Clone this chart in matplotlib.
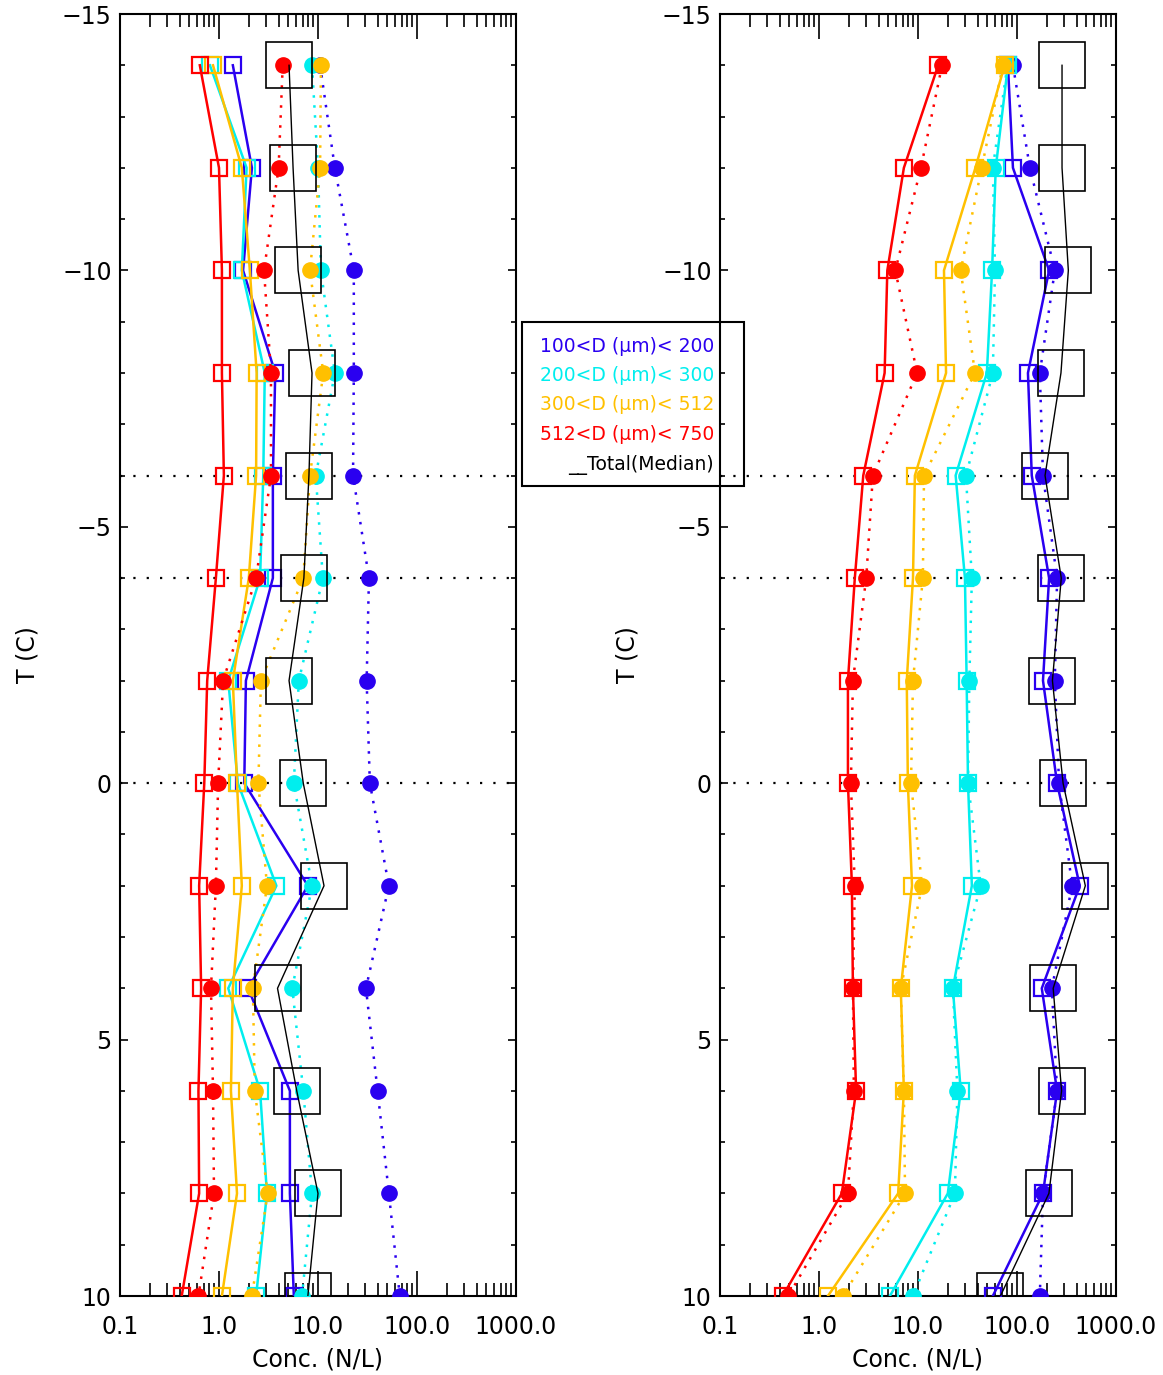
import matplotlib
matplotlib.use("Agg")
import matplotlib.pyplot as plt
from matplotlib.patches import Rectangle
from matplotlib.ticker import FixedLocator, NullFormatter

plt.rcParams['font.family'] = ['DejaVu Sans']

# ---------------- data ----------------
temps = [-14, -12, -10, -8, -6, -4, -2, 0, 2, 4, 6, 8, 10]

bin_labels = ["100<D (\u03bcm)< 200", "200<D (\u03bcm)< 300",
              "300<D (\u03bcm)< 512", "512<D (\u03bcm)< 750"]
bin_colors = ["#2a00f0", "#00eeee", "#ffc000", "#ff0000"]

# left panel: squares (solid line) and circles (dotted line)
left_sq_blue = [1.38, 2.15, 1.75, 3.7, 3.5, 3.5, 1.87, 1.8, 7.9, 1.97, 5.2, 5.2, 5.7]
left_ci_blue = [10.5, 14.8, 23, 23, 22.6, 32.7, 31, 33.4, 52, 30.5, 40, 52, 67]
left_sq_cyan = [0.81, 1.9, 1.7, 2.9, 2.8, 2.6, 1.24, 1.55, 3.8, 1.24, 2.6, 3.05, 2.37]
left_ci_cyan = [8.7, 10, 10.7, 14.8, 9.5, 11.2, 6.4, 5.7, 8.7, 5.5, 7.1, 8.7, 6.9]
left_sq_orange = [0.87, 1.7, 2.05, 2.4, 2.37, 2.0, 1.38, 1.52, 1.7, 1.38, 1.32, 1.52, 1.07]
left_ci_orange = [10.7, 10.5, 8.3, 11.3, 8.3, 7.1, 2.65, 2.5, 3.05, 2.2, 2.3, 3.1, 2.15]
left_sq_red = [0.64, 1.0, 1.07, 1.07, 1.12, 0.93, 0.76, 0.71, 0.63, 0.66, 0.62, 0.63, 0.42]
left_ci_red = [4.4, 4.0, 2.85, 3.35, 3.35, 2.37, 1.1, 0.98, 0.93, 0.83, 0.87, 0.89, 0.62]
left_total = [5.1, 5.6, 6.3, 8.7, 8.1, 7.2, 5.1, 7.1, 11.5, 3.9, 6.1, 10, 7.9]

# right panel
right_sq_blue = [81, 91, 211, 129, 141, 211, 183, 254, 430, 178, 254, 183, 57]
right_ci_blue = [91, 135, 241, 170, 183, 254, 241, 266, 360, 225, 254, 183, 170]
right_sq_cyan = [81, 61, 56, 49.6, 24, 29.8, 31, 32, 35, 22.5, 27, 20, 5.2]
right_ci_cyan = [80, 57, 60, 57, 30.5, 35, 33, 32, 43, 22.5, 25, 23.6, 8.9]
right_sq_orange = [75, 38, 18.3, 19.2, 9.3, 8.9, 7.7, 7.9, 8.7, 6.7, 7.2, 6.3, 1.23]
right_ci_orange = [72, 44, 27, 37.6, 11.5, 11.2, 8.9, 8.5, 11, 6.7, 7.2, 7.4, 1.75]
right_sq_red = [16, 7.2, 4.9, 4.6, 2.8, 2.3, 1.96, 1.96, 2.15, 2.2, 2.37, 1.7, 0.43]
right_ci_red = [17.5, 10.7, 5.9, 9.8, 3.5, 3.0, 2.2, 2.1, 2.3, 2.2, 2.25, 1.96, 0.49]
right_total = [285, 285, 330, 278, 192, 280, 228, 292, 490, 232, 282, 210, 68]

ref_lines = [-6, -4, 0]
x_ticks = [0.1, 1, 10, 100, 1000]
x_ticklabels = ["0.1", "1.0", "10.0", "100.0", "1000.0"]
y_ticks = [-15, -10, -5, 0, 5, 10]

left_sq = [left_sq_blue, left_sq_cyan, left_sq_orange, left_sq_red]
left_ci = [left_ci_blue, left_ci_cyan, left_ci_orange, left_ci_red]
right_sq = [right_sq_blue, right_sq_cyan, right_sq_orange, right_sq_red]
right_ci = [right_ci_blue, right_ci_cyan, right_ci_orange, right_ci_red]

# ---------------- figure ----------------
W, H = 1163, 1375
fig = plt.figure(figsize=(W / 100, H / 100), dpi=100)

def px_axes(x0, x1, y0, y1):
    return fig.add_axes([x0 / W, 1 - y1 / H, (x1 - x0) / W, (y1 - y0) / H])

axL = px_axes(120, 516, 14, 1296)
axR = px_axes(720, 1116, 14, 1296)

def draw_panel(ax, sq_list, ci_list, total):
    ax.set_xscale('log')
    ax.set_xlim(0.1, 1000)
    ax.set_ylim(10, -15)
    for yv in ref_lines:
        ax.axhline(yv, color='black', lw=1.6, ls=(0, (1, 5)), zorder=1)
    for sq, ci, col in zip(sq_list, ci_list, bin_colors):
        ax.plot(sq, temps, color=col, lw=1.8, marker='s', ms=12,
                mfc='none', mec=col, mew=1.6, zorder=3)
        ax.plot(ci, temps, color=col, lw=1.8, ls=(0, (1, 3)), marker='o',
                ms=11, mfc=col, mec=col, zorder=3)
    ax.plot(total, temps, color='black', lw=1.0, marker='s', ms=33.5,
            mfc='none', mec='black', mew=1.2, zorder=4)

    ax.set_xticks(x_ticks)
    ax.set_xticklabels(x_ticklabels)
    ax.xaxis.set_minor_locator(FixedLocator(
        [m * 10.0 ** e for e in range(-1, 3) for m in range(2, 10)]))
    ax.xaxis.set_minor_formatter(NullFormatter())
    ax.set_yticks(y_ticks)
    ax.set_yticklabels([("\u2212" + str(-v)) if v < 0 else str(v) for v in y_ticks])
    ax.yaxis.set_minor_locator(FixedLocator(list(range(-15, 11))))

    ax.tick_params(axis='x', which='major', direction='in', length=18,
                   width=1.2, top=True, bottom=True, labelsize=17, pad=14)
    ax.tick_params(axis='x', which='minor', direction='in', length=9.5,
                   width=1.2, top=True, bottom=True)
    ax.tick_params(axis='y', which='major', direction='in', length=6,
                   width=1.2, left=True, right=True, labelsize=17, pad=6)
    ax.tick_params(axis='y', which='minor', direction='in', length=3.6,
                   width=1.2, left=True, right=True)
    for s in ax.spines.values():
        s.set_linewidth(1.5)
    ax.set_xlabel("Conc. (N/L)", fontsize=17, labelpad=6)
    ax.set_ylabel("T (C)", fontsize=17)
    ax.yaxis.set_label_coords(-0.2045, 0.5)

draw_panel(axL, left_sq, left_ci, left_total)
draw_panel(axR, right_sq, right_ci, right_total)

# ---------------- legend box ----------------
lx0, lx1, ly0, ly1 = 522, 744, 322, 486
fig.patches.append(Rectangle((lx0 / W, 1 - ly1 / H), (lx1 - lx0) / W,
                             (ly1 - ly0) / H, transform=fig.transFigure,
                             fill=False, edgecolor='black', lw=1.5, zorder=10))
leg_y = [346, 376, 405, 435, 465]
for txt, col, yy in zip(bin_labels + ["__Total(Median)"],
                        bin_colors + ["black"], leg_y):
    fig.text(714 / W, 1 - yy / H, txt, color=col, fontsize=13.5,
             ha='right', va='center', zorder=11)

fig.savefig("out.png", dpi=100)
